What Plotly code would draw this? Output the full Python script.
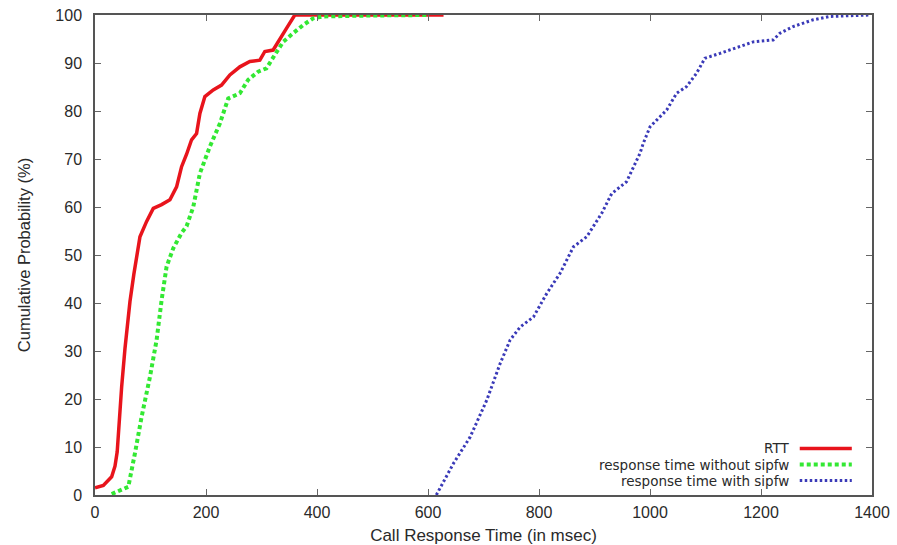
import plotly.graph_objects as go

# RTT
rtt_x = [0, 15, 30, 36, 40, 44, 48, 54, 63, 70, 81, 93, 105, 120, 135, 147, 156, 165, 174, 183, 189, 198,
         213, 228, 243, 261, 279, 297, 306, 321, 333, 345, 360, 400, 500, 628]
rtt_y = [1.5, 2, 3.8, 6, 9, 17, 22.5, 30.5, 40.3, 46, 53.8, 57, 59.7, 60.5, 61.5, 64.2, 68.4, 71, 74, 75.3, 79.5, 83,
         84.4, 85.4, 87.5, 89.2, 90.3, 90.6, 92.4, 92.7, 95.1, 97.2, 100, 100, 100, 100]

# response time without sipfw
wo_x = [30, 48, 60, 72, 84, 99, 111, 120, 129, 141, 156, 165, 177, 189, 207, 225, 240, 261, 276, 294, 309,
        324, 339, 357, 375, 393, 411, 500, 600]
wo_y = [0.2, 1, 1.7, 8.7, 16.3, 24.6, 32.3, 40.6, 47.6, 51.4, 54.6, 56, 60, 67, 72.6, 77.4, 82.6, 83.7, 86.5,
        88.2, 88.9, 91.7, 94.4, 96.2, 97.9, 99.3, 99.7, 99.9, 100]

# response time with sipfw
w_x = [615, 646, 676, 706, 730, 748, 766, 790, 814, 838, 862, 886, 913, 931, 958, 982, 988, 1000, 1012, 1030,
       1048, 1066, 1084, 1099, 1126, 1162, 1186, 1222, 1234, 1258, 1294, 1324, 1396]
w_y = [0, 6.6, 12.1, 19.8, 27.4, 32.3, 35, 37.1, 42, 46.2, 51.7, 53.8, 58.7, 62.8, 65.3, 71.2, 73.3, 76.7, 78.1,
       80.2, 83.7, 85.1, 87.9, 91, 92, 93.4, 94.4, 94.8, 96.2, 97.6, 99, 99.7, 100]

names = ["RTT", "response time without sipfw", "response time with sipfw"]
colors = ["#e8141c", "#33e833", "#3a3ab8"]
widths = [3.5, 4, 3]
dashes = ["solid", "4px,3px", "2.5px,2.5px"]

x_ticks = [0, 200, 400, 600, 800, 1000, 1200, 1400]
y_ticks = [0, 10, 20, 30, 40, 50, 60, 70, 80, 90, 100]

FONT = "Liberation Sans, Arial"
LEGFONT = "DejaVu Sans, Liberation Sans"
TXT = "#2a2a2a"

fig = go.Figure()
for xs, ys, n, c, w, d in zip([rtt_x, wo_x, w_x], [rtt_y, wo_y, w_y], names, colors, widths, dashes):
    fig.add_trace(go.Scatter(x=xs, y=ys, mode="lines", name=n,
                             line=dict(color=c, width=w, dash=d), showlegend=False))

# legend drawn manually (text right-aligned, sample on the right)
leg_rows = [0.0969, 0.0635, 0.0302]
for n, c, w, d, yy in zip(names, colors, widths, dashes, leg_rows):
    fig.add_annotation(x=0.894, y=yy, xref="paper", yref="paper", text=n, showarrow=False,
                       xanchor="right", yanchor="middle", borderpad=0,
                       font=dict(family=LEGFONT, size=13.5, color=TXT))
    fig.add_shape(type="line", xref="paper", yref="paper", x0=0.907, x1=0.974, y0=yy, y1=yy,
                  line=dict(color=c, width=w, dash=d))

axis_common = dict(showgrid=False, zeroline=False, showline=True, linecolor="#555", linewidth=1.5,
                   mirror="ticks", ticks="inside", ticklen=6, tickcolor="#666", tickwidth=1,
                   automargin=False,
                   tickfont=dict(family=FONT, size=16, color=TXT))

fig.update_xaxes(range=[0, 1400], tickvals=x_ticks, ticktext=[str(v) for v in x_ticks],
                 ticklabelstandoff=2,
                 title=dict(text="Call Response Time (in msec)",
                            font=dict(family=FONT, size=17, color=TXT)),
                 **axis_common)
fig.update_yaxes(range=[0, 100], tickvals=y_ticks, ticktext=[str(v) for v in y_ticks],
                 ticklabelstandoff=8,
                 title=dict(text="Cumulative Probability (%)", standoff=21,
                            font=dict(family=FONT, size=16.5, color=TXT)),
                 **axis_common)

fig.update_layout(width=897, height=545, margin=dict(l=95, r=25, t=15, b=50),
                  plot_bgcolor="white", paper_bgcolor="white")

fig.write_html("out.html", config={"displayModeBar": False},
               post_script="document.body.style.margin='0px';")
